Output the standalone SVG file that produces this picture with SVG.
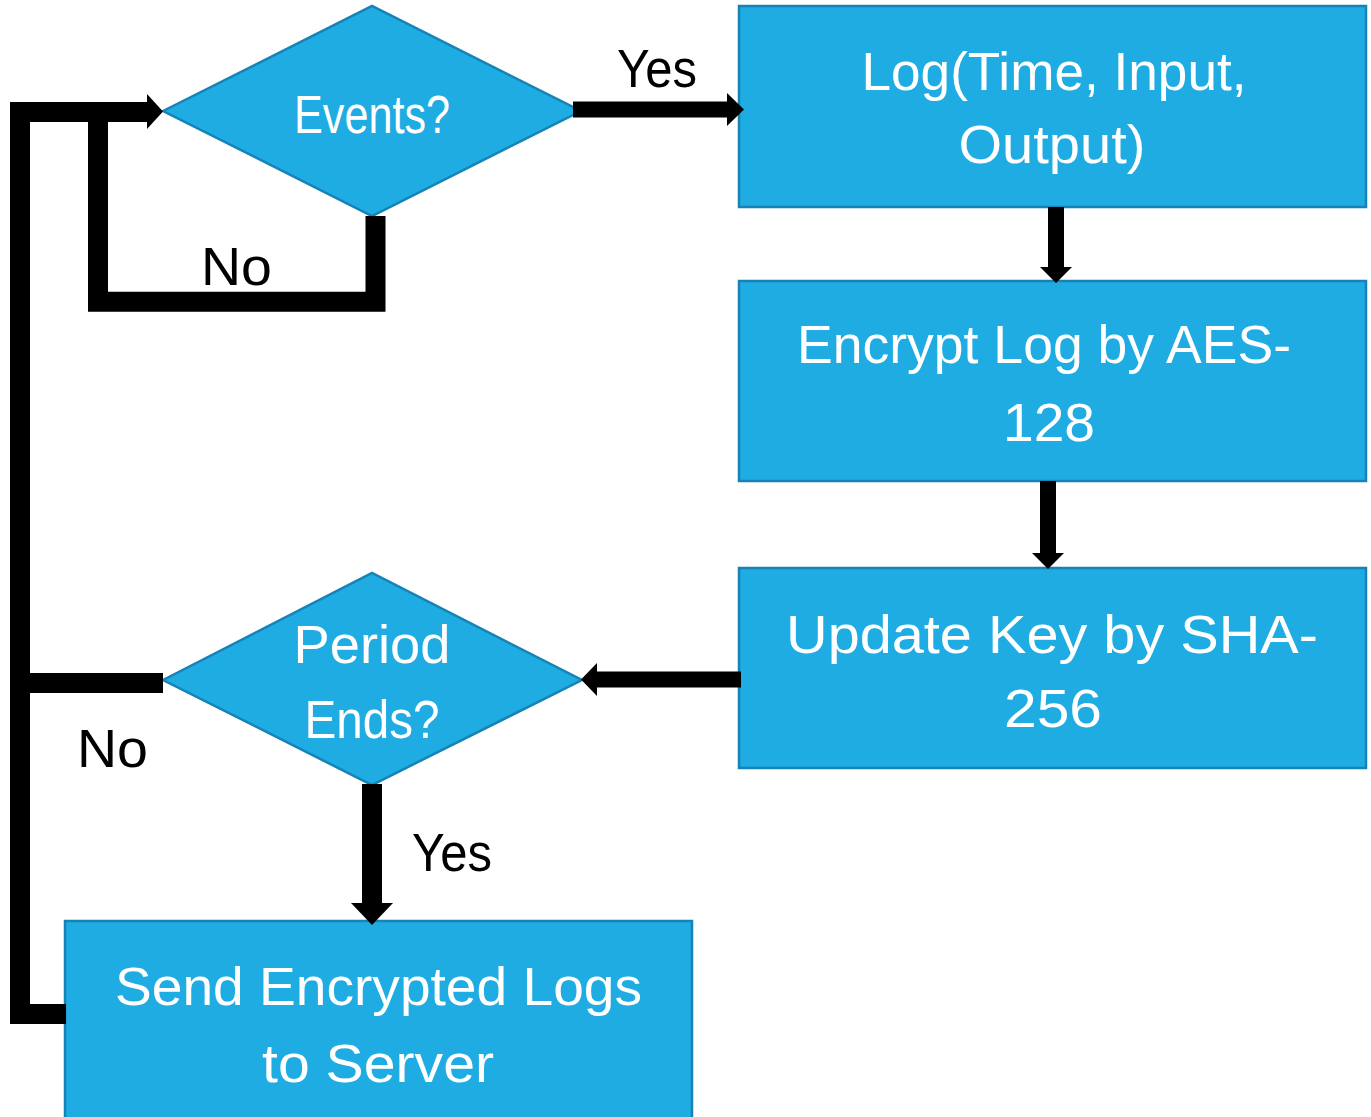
<svg xmlns="http://www.w3.org/2000/svg" width="1371" height="1117" viewBox="0 0 1371 1117">
  <style>
    .shape { fill: #1FACE3; stroke: #1683B6; stroke-width: 2.5; }
    .label { font-family: "Liberation Sans", Arial, sans-serif; font-size: 53px; fill: #FFFFFF; text-anchor: middle; }
    .edge-label { font-family: "Liberation Sans", Arial, sans-serif; font-size: 53px; fill: #000000; text-anchor: middle; }
    .wire { fill: none; stroke: #000000; stroke-linejoin: miter; stroke-linecap: butt; }
    .head { fill: #000000; }
  </style>
  <rect width="1371" height="1117" fill="#FFFFFF"/>

  <!-- decision: any events? -->
  <g id="events">
    <polygon class="shape" points="163,111 372,6 581,111 372,216"/>
    <text class="label" x="372" y="133" textLength="156" lengthAdjust="spacingAndGlyphs">Events?</text>
  </g>

  <!-- write log entry -->
  <g id="log">
    <rect class="shape" x="739" y="6" width="627" height="201"/>
    <text class="label" x="1054" y="90" textLength="385" lengthAdjust="spacingAndGlyphs">Log(Time, Input,</text>
    <text class="label" x="1052" y="163" textLength="187" lengthAdjust="spacingAndGlyphs">Output)</text>
  </g>

  <!-- encrypt entry -->
  <g id="encrypt">
    <rect class="shape" x="739" y="281" width="627" height="200"/>
    <text class="label" x="1044" y="363" textLength="494" lengthAdjust="spacingAndGlyphs">Encrypt Log by AES-</text>
    <text class="label" x="1049" y="441" textLength="92" lengthAdjust="spacingAndGlyphs">128</text>
  </g>

  <!-- key evolution -->
  <g id="update-key">
    <rect class="shape" x="739" y="568" width="627" height="200"/>
    <text class="label" x="1052" y="653" textLength="532" lengthAdjust="spacingAndGlyphs">Update Key by SHA-</text>
    <text class="label" x="1053" y="727" textLength="98" lengthAdjust="spacingAndGlyphs">256</text>
  </g>

  <!-- decision: period over? -->
  <g id="period-ends">
    <polygon class="shape" points="163,680 372,573 582,680 372,785"/>
    <text class="label" x="372" y="663" textLength="157" lengthAdjust="spacingAndGlyphs">Period</text>
    <text class="label" x="372" y="738" textLength="135" lengthAdjust="spacingAndGlyphs">Ends?</text>
  </g>

  <!-- upload -->
  <g id="send">
    <rect class="shape" x="65" y="921" width="627" height="210"/>
    <text class="label" x="378.5" y="1005" textLength="527" lengthAdjust="spacingAndGlyphs">Send Encrypted Logs</text>
    <text class="label" x="378" y="1082" textLength="232" lengthAdjust="spacingAndGlyphs">to Server</text>
  </g>

  <!-- connectors -->
  <g id="connectors">
    <!-- events: yes -> log -->
    <path class="wire" stroke-width="16" d="M573,109.5 H728"/>
    <polygon class="head" points="727,93 744,109.5 727,126"/>
    <!-- log -> encrypt -->
    <path class="wire" stroke-width="16" d="M1056,207 V268"/>
    <polygon class="head" points="1040,267 1072,267 1056,283"/>
    <!-- encrypt -> update key -->
    <path class="wire" stroke-width="16" d="M1048,481 V554"/>
    <polygon class="head" points="1032,553 1064,553 1048,569"/>
    <!-- update key -> period ends -->
    <path class="wire" stroke-width="16" d="M741,679.5 H596"/>
    <polygon class="head" points="597,663 597,696 581,679.5"/>
    <!-- period ends: yes -> send -->
    <path class="wire" stroke-width="20" d="M372,784 V904"/>
    <polygon class="head" points="351,903 393,903 372,925"/>
    <!-- events: no -> back to events -->
    <path class="wire" stroke-width="20" d="M375.5,216 V301.7 H98 V112 H148"/>
    <!-- send -> back to events -->
    <path class="wire" stroke-width="20" d="M66,1014 H20 V112 H148"/>
    <!-- period ends: no -> back to events -->
    <path class="wire" stroke-width="20" d="M20,683 H163"/>
    <polygon class="head" points="147,94 163,111.5 147,129"/>

    <text class="edge-label" x="657" y="87" textLength="80" lengthAdjust="spacingAndGlyphs">Yes</text>
    <text class="edge-label" x="236.5" y="285" textLength="71" lengthAdjust="spacingAndGlyphs">No</text>
    <text class="edge-label" x="112.5" y="767" textLength="71" lengthAdjust="spacingAndGlyphs">No</text>
    <text class="edge-label" x="452" y="871" textLength="80" lengthAdjust="spacingAndGlyphs">Yes</text>
  </g>
</svg>
